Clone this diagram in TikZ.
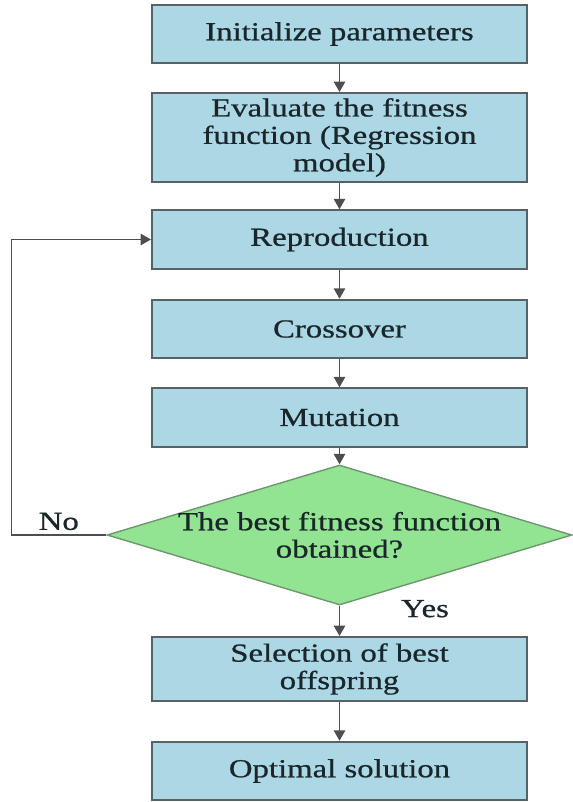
\documentclass[tikz,border=0pt]{standalone}
\usepackage{fontspec}
\setmainfont{Liberation Serif}[FakeStretch=1.26,FakeBold=0.7]
\usetikzlibrary{shapes.geometric,arrows.meta}
\definecolor{boxfill}{RGB}{172,216,230}
\definecolor{boxline}{RGB}{88,98,102}
\definecolor{decfill}{RGB}{146,228,146}
\definecolor{decline}{RGB}{112,150,112}
\definecolor{txt}{RGB}{26,38,42}
\definecolor{arrcol}{RGB}{78,78,78}
\begin{document}
\begin{tikzpicture}[
  stepbox/.style = {draw=boxline, fill=boxfill, line width=1.1pt, minimum width=7.5cm,
                    minimum height=1.17cm, inner sep=0pt, align=center, text=txt,
                    font=\fontsize{14.8}{15.6}\selectfont},
  decbox/.style  = {diamond, draw=decline, fill=decfill, line width=0.8pt, inner sep=0pt,
                    minimum width=9.3cm, minimum height=2.8cm},
  lbl/.style     = {text=txt, font=\fontsize{14.8}{15.6}\selectfont},
  arr/.style     = {draw=arrcol, line width=0.9pt, -{Triangle[length=2.1mm,width=2.3mm]}}
]
  \useasboundingbox (0,0) rectangle (11.46,-16.04);
  % main column of steps
  \node[stepbox] (init) at (6.79,-0.68) {Initialize parameters};
  \node[stepbox, minimum height=1.78cm] (eval) at (6.79,-2.75) {Evaluate the fitness\\function (Regression\\model)};
  \node[stepbox] (repro) at (6.79,-4.79) {Reproduction};
  \node[stepbox] (cross) at (6.79,-6.58) {Crossover};
  \node[stepbox] (mut) at (6.79,-8.35) {Mutation};
  % decision
  \node[decbox] (dec) at (6.79,-10.7) {};
  \node[lbl, align=center] (dectxt) at (dec.center) {The best fitness function\\obtained?};
  \node[stepbox, minimum height=1.28cm] (sel) at (6.79,-13.38) {Selection of best\\offspring};
  \node[stepbox] (opt) at (6.79,-15.42) {Optimal solution};
  % arrows down
  \draw[arr] (init) -- (eval);
  \draw[arr] (eval) -- (repro);
  \draw[arr] (repro) -- (cross);
  \draw[arr] (cross) -- (mut);
  \draw[arr] (mut) -- (dec);
  \draw[arr] (dec) -- (sel);
  \draw[arr] (sel) -- (opt);
  % loop back
  \draw[arr] (dec.west) -- ++(-1.9,0) node[lbl, midway, above, yshift=-1pt] (no) {No} |- (repro.west);
  \node[lbl, anchor=west] (yes) at ([xshift=1.11cm,yshift=-0.06cm]dec.south) {Yes};
\end{tikzpicture}
\end{document}
